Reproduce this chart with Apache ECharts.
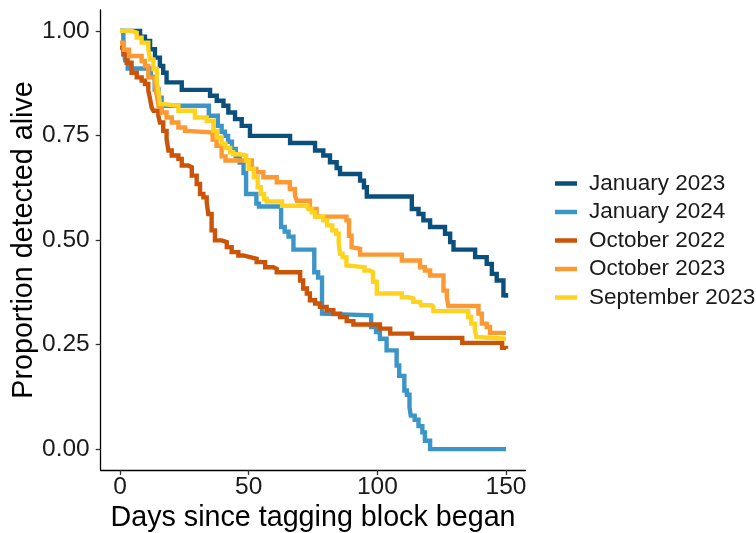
<!DOCTYPE html>
<html>
<head>
<meta charset="utf-8">
<script src="https://cdn.jsdelivr.net/npm/echarts@6/dist/echarts.min.js"></script>
<style>
html,body{margin:0;padding:0;background:#fff;}
#chart{width:756px;height:533px;}
</style>
</head>
<body>
<div id="chart"></div>
<script>
// ---- Data ----
const seriesNames = ["January 2023", "January 2024", "October 2022", "October 2023", "September 2023"];
const xTicks = [0, 50, 100, 150];
const yTicks = [0, 0.25, 0.5, 0.75, 1.0];

const jan2023Days = [0,7.8,9.7,11.7,13.6,15.5,16.8,18.1,24,35,37.6,40.2,42.1,44.7,47.3,50.5,66.1,75.8,79,81.6,84.2,85.5,93.3,94.8,95.9,113.4,116,117.9,120.5,126.3,128.3,129.6,138,142.5,144.5,146.4,149,150];
const jan2023Vals = [1.0,0.986,0.976,0.956,0.936,0.916,0.90,0.877,0.859,0.845,0.833,0.821,0.805,0.789,0.773,0.749,0.732,0.714,0.702,0.686,0.672,0.658,0.642,0.626,0.604,0.574,0.562,0.547,0.531,0.515,0.495,0.477,0.459,0.443,0.419,0.403,0.368,0.362];

const jan2024Days = [0,1.3,2,3,12,13.5,15,16.2,34.5,38,39.5,40.8,42,43.5,45,46.5,48,49,53,54,62.6,64,65.5,67.4,75.5,77,78.5,79,97.6,99.5,101,103.6,107.5,108.5,110.5,111.5,112.5,113,114.5,116,117.5,118.5,120.5,150];
const jan2024Vals = [1.0,0.96,0.93,0.91,0.89,0.86,0.84,0.821,0.797,0.773,0.759,0.749,0.735,0.718,0.70,0.685,0.66,0.61,0.587,0.58,0.531,0.52,0.508,0.477,0.423,0.41,0.324,0.32,0.292,0.28,0.264,0.236,0.20,0.175,0.14,0.13,0.10,0.08,0.07,0.055,0.04,0.02,0.0,0.0];

const oct2022Days = [0,1.3,2.6,4.5,6.5,8.4,9.7,11,11.7,12.3,13,14.9,15.5,16.8,18.1,18.8,20.1,22.7,24,26.5,27.9,29.8,31.1,32.4,33.7,34.3,35.6,36.9,39.5,41.5,43.4,46,47.9,50.5,53.1,56.4,59.6,60.9,70,71.2,72.6,73.8,75.8,77.7,80.3,82.9,85.5,88.1,90.7,101,105,113.5,133,148.5,150];
const oct2022Vals = [0.96,0.944,0.924,0.90,0.889,0.881,0.873,0.857,0.837,0.817,0.809,0.797,0.781,0.761,0.742,0.714,0.702,0.694,0.678,0.674,0.654,0.634,0.610,0.602,0.590,0.562,0.523,0.499,0.495,0.483,0.471,0.463,0.459,0.455,0.447,0.435,0.431,0.423,0.403,0.384,0.372,0.356,0.348,0.340,0.332,0.324,0.316,0.306,0.298,0.288,0.276,0.266,0.254,0.242,0.24];

const oct2023Days = [0,1.5,3.5,8.4,9.7,11,12.5,13.6,14.3,15,16.2,18.1,20.1,22.7,25.3,26.4,36,37.5,39.5,41,51.2,53,55.7,60.9,66,68,68.7,73.8,76.4,88,89,90,90.5,93.3,109.5,116.6,118.5,120.5,125.7,127,127.6,139.3,140.6,142.5,143.8,150];
const oct2023Vals = [0.972,0.955,0.94,0.928,0.916,0.889,0.885,0.869,0.845,0.82,0.805,0.793,0.781,0.769,0.761,0.757,0.74,0.725,0.70,0.69,0.670,0.662,0.650,0.638,0.622,0.606,0.594,0.574,0.556,0.547,0.51,0.483,0.479,0.465,0.451,0.435,0.427,0.415,0.379,0.363,0.342,0.324,0.300,0.292,0.278,0.278];

const sep2023Days = [0,4.5,6.5,8.4,11,11.7,13,14.3,15,15.5,16.8,22.7,29.1,33.7,36.3,37.6,39.5,41,42.8,44,46.6,49,50,52,53.5,54.7,56,57,63,73,74.5,75.8,79,80.5,82.5,84,85,85.5,86.5,88,88.7,95,97,98.3,99.8,109.5,112,114,116.6,117,121,121.8,135.3,136.5,137.9,138.5,139,150];
const sep2023Vals = [1.0,0.996,0.984,0.972,0.956,0.932,0.909,0.877,0.853,0.825,0.821,0.809,0.793,0.785,0.761,0.745,0.73,0.72,0.71,0.705,0.702,0.69,0.67,0.65,0.626,0.61,0.598,0.592,0.582,0.575,0.566,0.556,0.547,0.535,0.523,0.515,0.492,0.467,0.459,0.439,0.435,0.427,0.423,0.40,0.372,0.363,0.36,0.352,0.348,0.344,0.340,0.330,0.316,0.30,0.284,0.268,0.264,0.264];

const colors = ["#0B4F7C", "#3C95C8", "#CB5409", "#FD9932", "#FDD31F"];

function pairs(xs, ys) { return xs.map((x, i) => [x, ys[i]]); }
const allData = [
  pairs(jan2023Days, jan2023Vals),
  pairs(jan2024Days, jan2024Vals),
  pairs(oct2022Days, oct2022Vals),
  pairs(oct2023Days, oct2023Vals),
  pairs(sep2023Days, sep2023Vals)
];

const FONT = "'Liberation Sans', Arial, sans-serif";
const chart = echarts.init(document.getElementById('chart'), null, {renderer: 'canvas'});

chart.setOption({
  animation: false,
  backgroundColor: '#ffffff',
  textStyle: {fontFamily: FONT},
  grid: {left: 100.7, right: 230.7, top: 10, bottom: 63, containLabel: false, outerBoundsMode: 'none'},
  legend: {
    orient: 'vertical',
    left: 550,
    top: 167,
    icon: 'rect',
    itemWidth: 22,
    itemHeight: 4.5,
    itemGap: 5.5,
    data: seriesNames,
    textStyle: {fontSize: 22.5, color: '#1a1a1a', fontFamily: FONT, lineHeight: 22, padding: [0, 0, 0, 7]}
  },
  xAxis: {
    type: 'value',
    min: -7.5,
    max: 157.5,
    name: 'Days since tagging block began',
    nameLocation: 'middle',
    nameGap: 33.5,
    nameMoveOverlap: false,
    nameTextStyle: {fontSize: 28.7, color: '#000', fontFamily: FONT},
    axisLine: {show: true, onZero: false, lineStyle: {color: '#000', width: 1.3}},
    axisTick: {show: true, length: 5, lineStyle: {color: '#333', width: 1.3}, customValues: xTicks},
    axisLabel: {fontSize: 24.5, color: '#1a1a1a', margin: 5, customValues: xTicks, formatter: v => String(v)},
    splitLine: {show: false}
  },
  yAxis: {
    type: 'value',
    min: -0.05,
    max: 1.05,
    name: 'Proportion detected alive',
    nameLocation: 'middle',
    nameGap: 62,
    nameMoveOverlap: false,
    nameTextStyle: {fontSize: 28.7, color: '#000', fontFamily: FONT},
    axisLine: {show: true, onZero: false, lineStyle: {color: '#000', width: 1.3}},
    axisTick: {show: true, length: 5, lineStyle: {color: '#333', width: 1.3}, customValues: yTicks},
    axisLabel: {fontSize: 24.5, color: '#1a1a1a', margin: 11, customValues: yTicks, formatter: v => v.toFixed(2)},
    splitLine: {show: false}
  },
  series: seriesNames.map((name, i) => ({
    name: name,
    type: 'line',
    step: 'end',
    data: allData[i],
    showSymbol: false,
    symbol: 'none',
    color: colors[i],
    lineStyle: {width: 4.4, color: colors[i], cap: 'butt', join: 'miter'},
    clip: true
  }))
});
</script>
</body>
</html>
